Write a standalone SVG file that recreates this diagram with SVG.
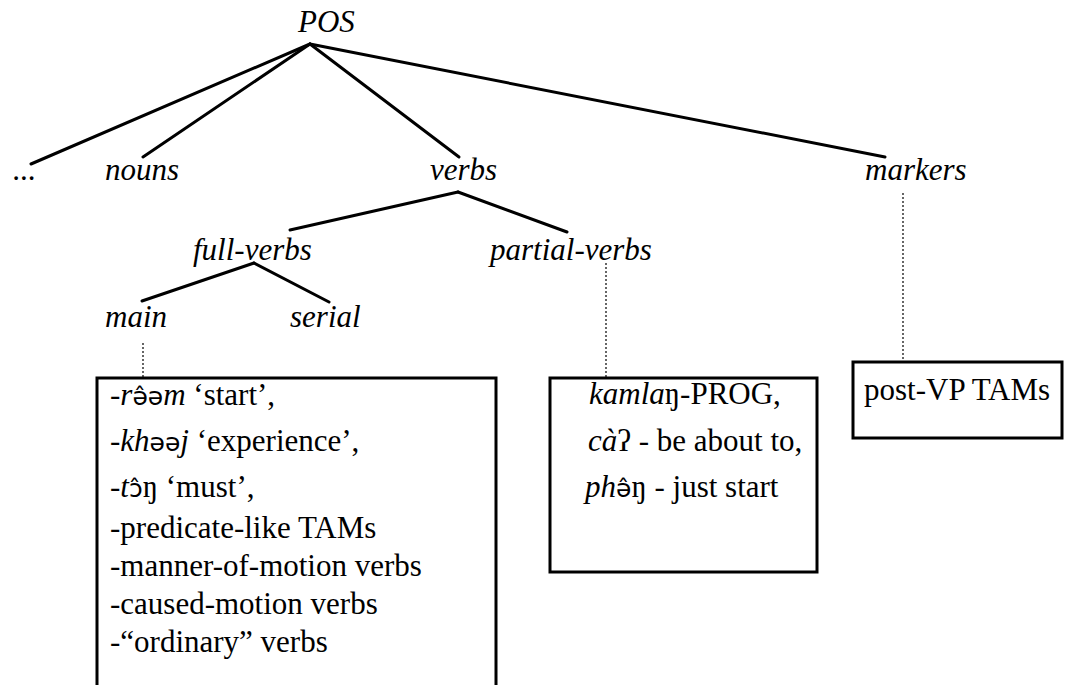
<svg xmlns="http://www.w3.org/2000/svg" width="1070" height="685" viewBox="0 0 1070 685">
<style>
.edge{stroke:#000;stroke-width:3;fill:none;stroke-linecap:round}
.dot{stroke:#000;stroke-width:1.2;fill:none;stroke-dasharray:2 2}
.box{stroke:#000;stroke-width:3;fill:#fff}
</style>
<rect width="1070" height="685" fill="#fff"/>
<g id="connectors">
<line class="edge" x1="310" y1="44" x2="31" y2="164"/>
<line class="edge" x1="310" y1="44" x2="143" y2="157"/>
<line class="edge" x1="310" y1="44" x2="459" y2="157"/>
<line class="edge" x1="310" y1="44" x2="885" y2="157"/>
<line class="edge" x1="458" y1="192" x2="290" y2="230"/>
<line class="edge" x1="458" y1="192" x2="567" y2="232"/>
<line class="edge" x1="254" y1="263" x2="142" y2="301"/>
<line class="edge" x1="254" y1="263" x2="329" y2="302"/>
<line class="dot" x1="143" y1="343" x2="143" y2="378"/>
<line class="dot" x1="606" y1="263" x2="606" y2="378"/>
<line class="dot" x1="903" y1="193" x2="903" y2="362"/>
</g>
<g id="pos"><text x="298" y="32" font-family="'Liberation Serif', serif" font-style="italic" font-size="31">POS</text></g>
<g id="etc"><text x="13" y="180" font-family="'Liberation Serif', serif" font-style="italic" font-size="31">...</text></g>
<g id="nouns"><text x="105" y="180" font-family="'Liberation Serif', serif" font-style="italic" font-size="31">nouns</text></g>
<g id="verbs"><text x="430" y="180" font-family="'Liberation Serif', serif" font-style="italic" font-size="31">verbs</text></g>
<g id="markers"><text x="865" y="180" font-family="'Liberation Serif', serif" font-style="italic" font-size="31">markers</text></g>
<g id="full-verbs"><text x="193" y="260" font-family="'Liberation Serif', serif" font-style="italic" font-size="31">full-verbs</text></g>
<g id="partial-verbs"><text x="490" y="260" font-family="'Liberation Serif', serif" font-style="italic" font-size="31">partial-verbs</text></g>
<g id="main"><text x="105" y="327" font-family="'Liberation Serif', serif" font-style="italic" font-size="31">main</text></g>
<g id="serial"><text x="290" y="327" font-family="'Liberation Serif', serif" font-style="italic" font-size="31">serial</text></g>
<g id="main-box">
<rect class="box" x="97" y="378" width="399" height="320"/>
<text x="110" y="405" font-family="'Liberation Serif', serif" font-size="31">-<tspan font-style="italic">r</tspan><tspan font-family="'DejaVu Sans', sans-serif" font-size="25">ə̂ə</tspan><tspan font-style="italic" font-family="'Liberation Serif', serif">m</tspan><tspan font-family="'Liberation Serif', serif"> ‘start’,</tspan></text>
<text x="110" y="451" font-family="'Liberation Serif', serif" font-size="31">-<tspan font-style="italic">kh</tspan><tspan font-family="'DejaVu Sans', sans-serif" font-size="25">əə</tspan><tspan font-style="italic" font-family="'Liberation Serif', serif">j</tspan><tspan font-family="'Liberation Serif', serif"> ‘experience’,</tspan></text>
<text x="110" y="497" font-family="'Liberation Serif', serif" font-size="31">-<tspan font-style="italic">t</tspan><tspan font-family="'DejaVu Sans', sans-serif" font-size="25">ɔ̂</tspan><tspan font-family="'Liberation Serif', serif">ŋ ‘must’,</tspan></text>
<text x="110" y="538" font-family="'Liberation Serif', serif" font-size="31">-predicate-like TAMs</text>
<text x="110" y="576" font-family="'Liberation Serif', serif" font-size="31">-manner-of-motion verbs</text>
<text x="110" y="614" font-family="'Liberation Serif', serif" font-size="31">-caused-motion verbs</text>
<text x="110" y="652" font-family="'Liberation Serif', serif" font-size="31">-“ordinary” verbs</text>
</g>
<g id="partial-box">
<rect class="box" x="550" y="378" width="267" height="194"/>
<text x="589" y="404" font-family="'Liberation Serif', serif" font-size="31"><tspan font-style="italic">kamla</tspan>ŋ-PROG,</text>
<text x="588" y="451" font-family="'Liberation Serif', serif" font-size="31"><tspan font-style="italic">cà</tspan>ʔ - be about to,</text>
<text x="585" y="497" font-family="'Liberation Serif', serif" font-size="31"><tspan font-style="italic">ph</tspan><tspan font-family="'DejaVu Sans', sans-serif" font-size="25">ə̂</tspan><tspan font-family="'Liberation Serif', serif">ŋ - just start</tspan></text>
</g>
<g id="tam-box">
<rect class="box" x="853" y="362" width="209" height="76"/>
<text x="864" y="400" font-family="'Liberation Serif', serif" font-size="31">post-VP TAMs</text>
</g>
</svg>
